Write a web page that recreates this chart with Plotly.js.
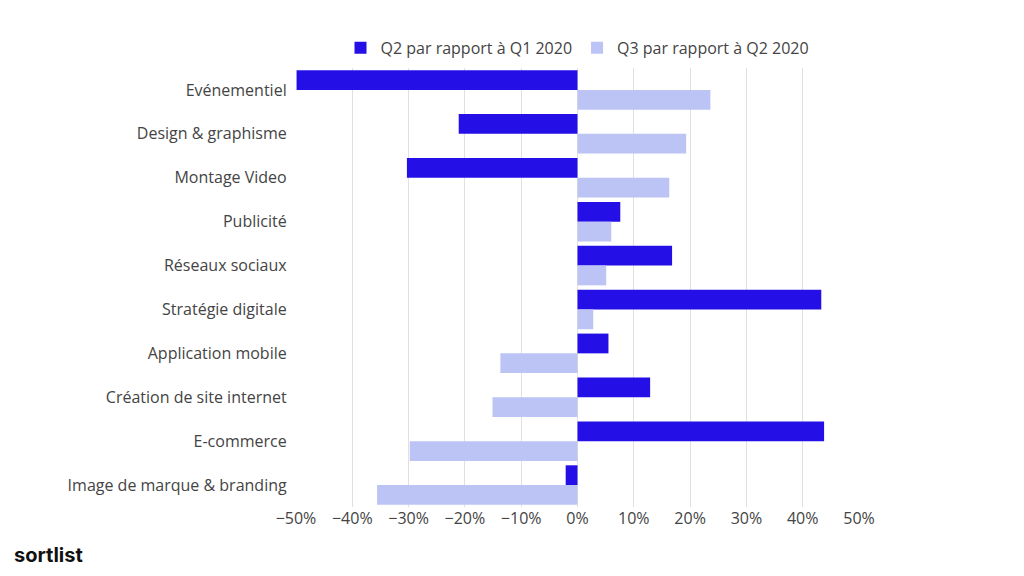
<!DOCTYPE html>
<html>
<head>
<meta charset="utf-8">
<script src="https://cdn.plot.ly/plotly-3.0.1.min.js"></script>
<style>body{margin:0;background:#fff}#chart{width:1024px;height:576px}</style>
</head>
<body>
<div id="chart"></div>
<script>
const categories = ['Evénementiel', 'Design & graphisme', 'Montage Video', 'Publicité', 'Réseaux sociaux',
    'Stratégie digitale', 'Application mobile', 'Création de site internet', 'E-commerce', 'Image de marque & branding'];
const q2 = [-49.9, -21.1, -30.3, 7.6, 16.8, 43.3, 5.5, 12.9, 43.8, -2.1];
const q3 = [23.6, 19.3, 16.3, 6.0, 5.1, 2.8, -13.7, -15.1, -29.8, -35.6];

const data = [
    { y: categories, x: q2.map(v => v / 100), type: 'bar', orientation: 'h', name: 'Q2 par rapport à Q1 2020',
      marker: { color: '#2410e6' } },
    { y: categories, x: q3.map(v => v / 100), type: 'bar', orientation: 'h', name: 'Q3 par rapport à Q2 2020',
      marker: { color: '#bcc4f6' } }
];
const layout = {
    width: 1024, height: 576,
    margin: { l: 296, r: 165, t: 68, b: 69 },
    font: { family: 'Open Sans', size: 16, color: '#444' },
    barmode: 'group', bargap: 0.1, bargroupgap: 0,
    showlegend: true,
    legend: { orientation: 'h', x: 0.5, xanchor: 'center', y: 1.046, yanchor: 'middle', font: { size: 16 } },
    xaxis: { range: [-0.5, 0.5], dtick: 0.1, tickformat: '.0%', showgrid: true, gridcolor: '#e0e0e0',
             zeroline: false, ticks: '', fixedrange: true },
    yaxis: { range: [9.5, -0.5], ticks: '', ticksuffix: '  ', showgrid: false, zeroline: false },
    plot_bgcolor: '#fff', paper_bgcolor: '#fff',
    annotations: [{ text: '<b>sortlist</b>', xref: 'paper', yref: 'paper', x: -0.504, y: -0.109,
        xanchor: 'left', yanchor: 'middle', showarrow: false, font: { family: 'Inter', size: 20, color: '#111' } }]
};
Plotly.newPlot('chart', data, layout, { displayModeBar: false });
</script>
</body>
</html>
